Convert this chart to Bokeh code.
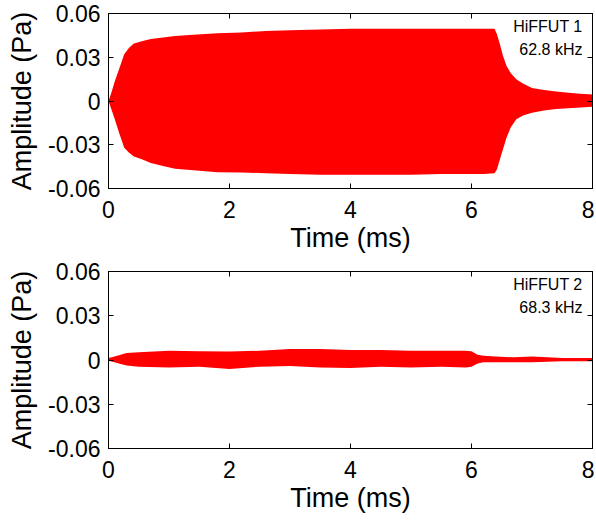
from bokeh.plotting import figure
from bokeh.layouts import column
from bokeh.models import (ColumnDataSource, FixedTicker, CustomJSTickFormatter,
                          LinearAxis, Range1d, Label, CustomLabelingPolicy)
from bokeh.embed import file_html
from bokeh.resources import INLINE

# ---------------- data ----------------
# HiFFUT 1, 62.8 kHz : envelope of the recorded waveform
t1 = [0, 0.05, 0.1, 0.18, 0.26, 0.34, 0.42, 0.55, 0.7, 0.9,
      1.1, 1.4, 1.8, 2.2, 2.6, 3.0, 3.5, 4.0, 4.5, 5.0,
      5.5, 6.0, 6.2, 6.38, 6.42, 6.47, 6.52, 6.58, 6.65, 6.74,
      6.85, 7.0, 7.2, 7.4, 7.6, 7.8, 8.0]
up1 = [0, 0.006, 0.013, 0.0225, 0.032, 0.0365, 0.0395, 0.041, 0.0425, 0.0435,
       0.0445, 0.0455, 0.0465, 0.047, 0.048, 0.0485, 0.049, 0.0495, 0.0495, 0.0495,
       0.0495, 0.0495, 0.0495, 0.0495, 0.046, 0.039, 0.031, 0.024, 0.019, 0.015,
       0.012, 0.009, 0.0075, 0.0065, 0.0057, 0.005, 0.0045]
lo1 = [0, -0.006, -0.012, -0.0225, -0.032, -0.0355, -0.038, -0.040, -0.0425, -0.0445,
       -0.0465, -0.0475, -0.0488, -0.049, -0.0495, -0.050, -0.0505, -0.0505, -0.0505, -0.0505,
       -0.050, -0.050, -0.050, -0.0495, -0.047, -0.040, -0.033, -0.025, -0.018, -0.0125,
       -0.010, -0.008, -0.0065, -0.0055, -0.005, -0.0045, -0.004]

# HiFFUT 2, 68.3 kHz
t2 = [0, 0.1, 0.2, 0.3, 0.5, 1.0, 1.5, 2.0, 2.5, 3.0,
      3.5, 4.0, 4.5, 5.0, 5.5, 5.9, 6.0, 6.1, 6.2, 6.4,
      6.7, 7.0, 7.5, 8.0]
up2 = [0.0014, 0.0023, 0.0036, 0.0047, 0.0052, 0.0063, 0.0059, 0.0057, 0.0063, 0.0075,
       0.0075, 0.0068, 0.0068, 0.0063, 0.0063, 0.0063, 0.0059, 0.0036, 0.0029, 0.0023,
       0.0018, 0.0023, 0.0014, 0.0014]
lo2 = [-0.0005, -0.0016, -0.0027, -0.0038, -0.0045, -0.005, -0.0045, -0.0061, -0.0045, -0.0041,
       -0.005, -0.0054, -0.0045, -0.005, -0.0045, -0.005, -0.0045, -0.0023, -0.0016, -0.0016,
       -0.0016, -0.0016, -0.0009, -0.0009]

x_ticks = [0, 2, 4, 6, 8]
y_ticks = [-0.06, -0.03, 0, 0.03, 0.06]
labels1 = ["HiFFUT 1", "62.8 kHz"]
labels2 = ["HiFFUT 2", "68.3 kHz"]

FONT = "Liberation Sans"
RED = "#ff0000"


def no_labels():
    return CustomLabelingPolicy(
        code="for (let i = 0; i < indices.size; i++) { indices.unset(i) } return indices")


def make_fig(t, up, lo, labels, frame_h, border_top, border_bottom):
    p = figure(frame_width=484, frame_height=frame_h,
               x_range=Range1d(0, 8), y_range=Range1d(-0.06, 0.06),
               output_backend="svg", toolbar_location=None,
               min_border_left=108, min_border_right=2,
               min_border_top=border_top, min_border_bottom=border_bottom,
               background_fill_color="white", border_fill_color="white")
    p.grid.visible = False
    p.outline_line_color = "black"
    p.outline_line_width = 1

    src = ColumnDataSource(dict(t=t, up=up, lo=lo))
    p.varea(x="t", y1="lo", y2="up", source=src, fill_color=RED)

    p.xaxis.ticker = FixedTicker(ticks=x_ticks)
    p.yaxis.ticker = FixedTicker(ticks=y_ticks)
    p.yaxis.formatter = CustomJSTickFormatter(
        code="return tick == 0 ? '0' : tick.toFixed(2);")
    for ax in p.xaxis + p.yaxis:
        ax.major_tick_in = 5
        ax.major_tick_out = 0
        ax.minor_tick_line_color = None
        ax.axis_line_color = "black"
        ax.major_label_text_font = FONT
        ax.major_label_text_font_size = "23px"
        ax.major_label_text_color = "black"
        ax.axis_label_text_font = FONT
        ax.axis_label_text_font_size = "27px"
        ax.axis_label_text_font_style = "normal"
        ax.axis_label_text_color = "black"
    p.xaxis.axis_label = "Time (ms)"
    p.xaxis.major_label_standoff = 12
    p.xaxis.axis_label_standoff = 2
    p.yaxis.axis_label = "Amplitude (Pa)"
    p.yaxis.major_label_standoff = 8
    p.yaxis.axis_label_standoff = 8

    # mirrored ticks on top and right (no labels)
    for loc, ticks in (("above", x_ticks), ("right", y_ticks)):
        ax = LinearAxis(ticker=FixedTicker(ticks=ticks), major_tick_in=5, major_tick_out=0,
                        minor_tick_line_color=None, major_label_standoff=0,
                        major_label_policy=no_labels(), axis_line_color="black",
                        major_label_text_font_size="0px")
        p.add_layout(ax, loc)

    offs = [-13, -36]
    for txt, off in zip(labels, offs):
        p.add_layout(Label(x=8, y=0.06, x_offset=-10, y_offset=off, text=txt,
                           text_align="right", text_baseline="middle",
                           text_font=FONT, text_font_size="16px", text_color="black"))
    return p


p1 = make_fig(t1, up1, lo1, labels1, 175, 13, 70)
p2 = make_fig(t2, up2, lo2, labels2, 177, 13, 70)

layout = column(p1, p2, spacing=0)
open("out.html", "w").write(file_html(layout, INLINE))
